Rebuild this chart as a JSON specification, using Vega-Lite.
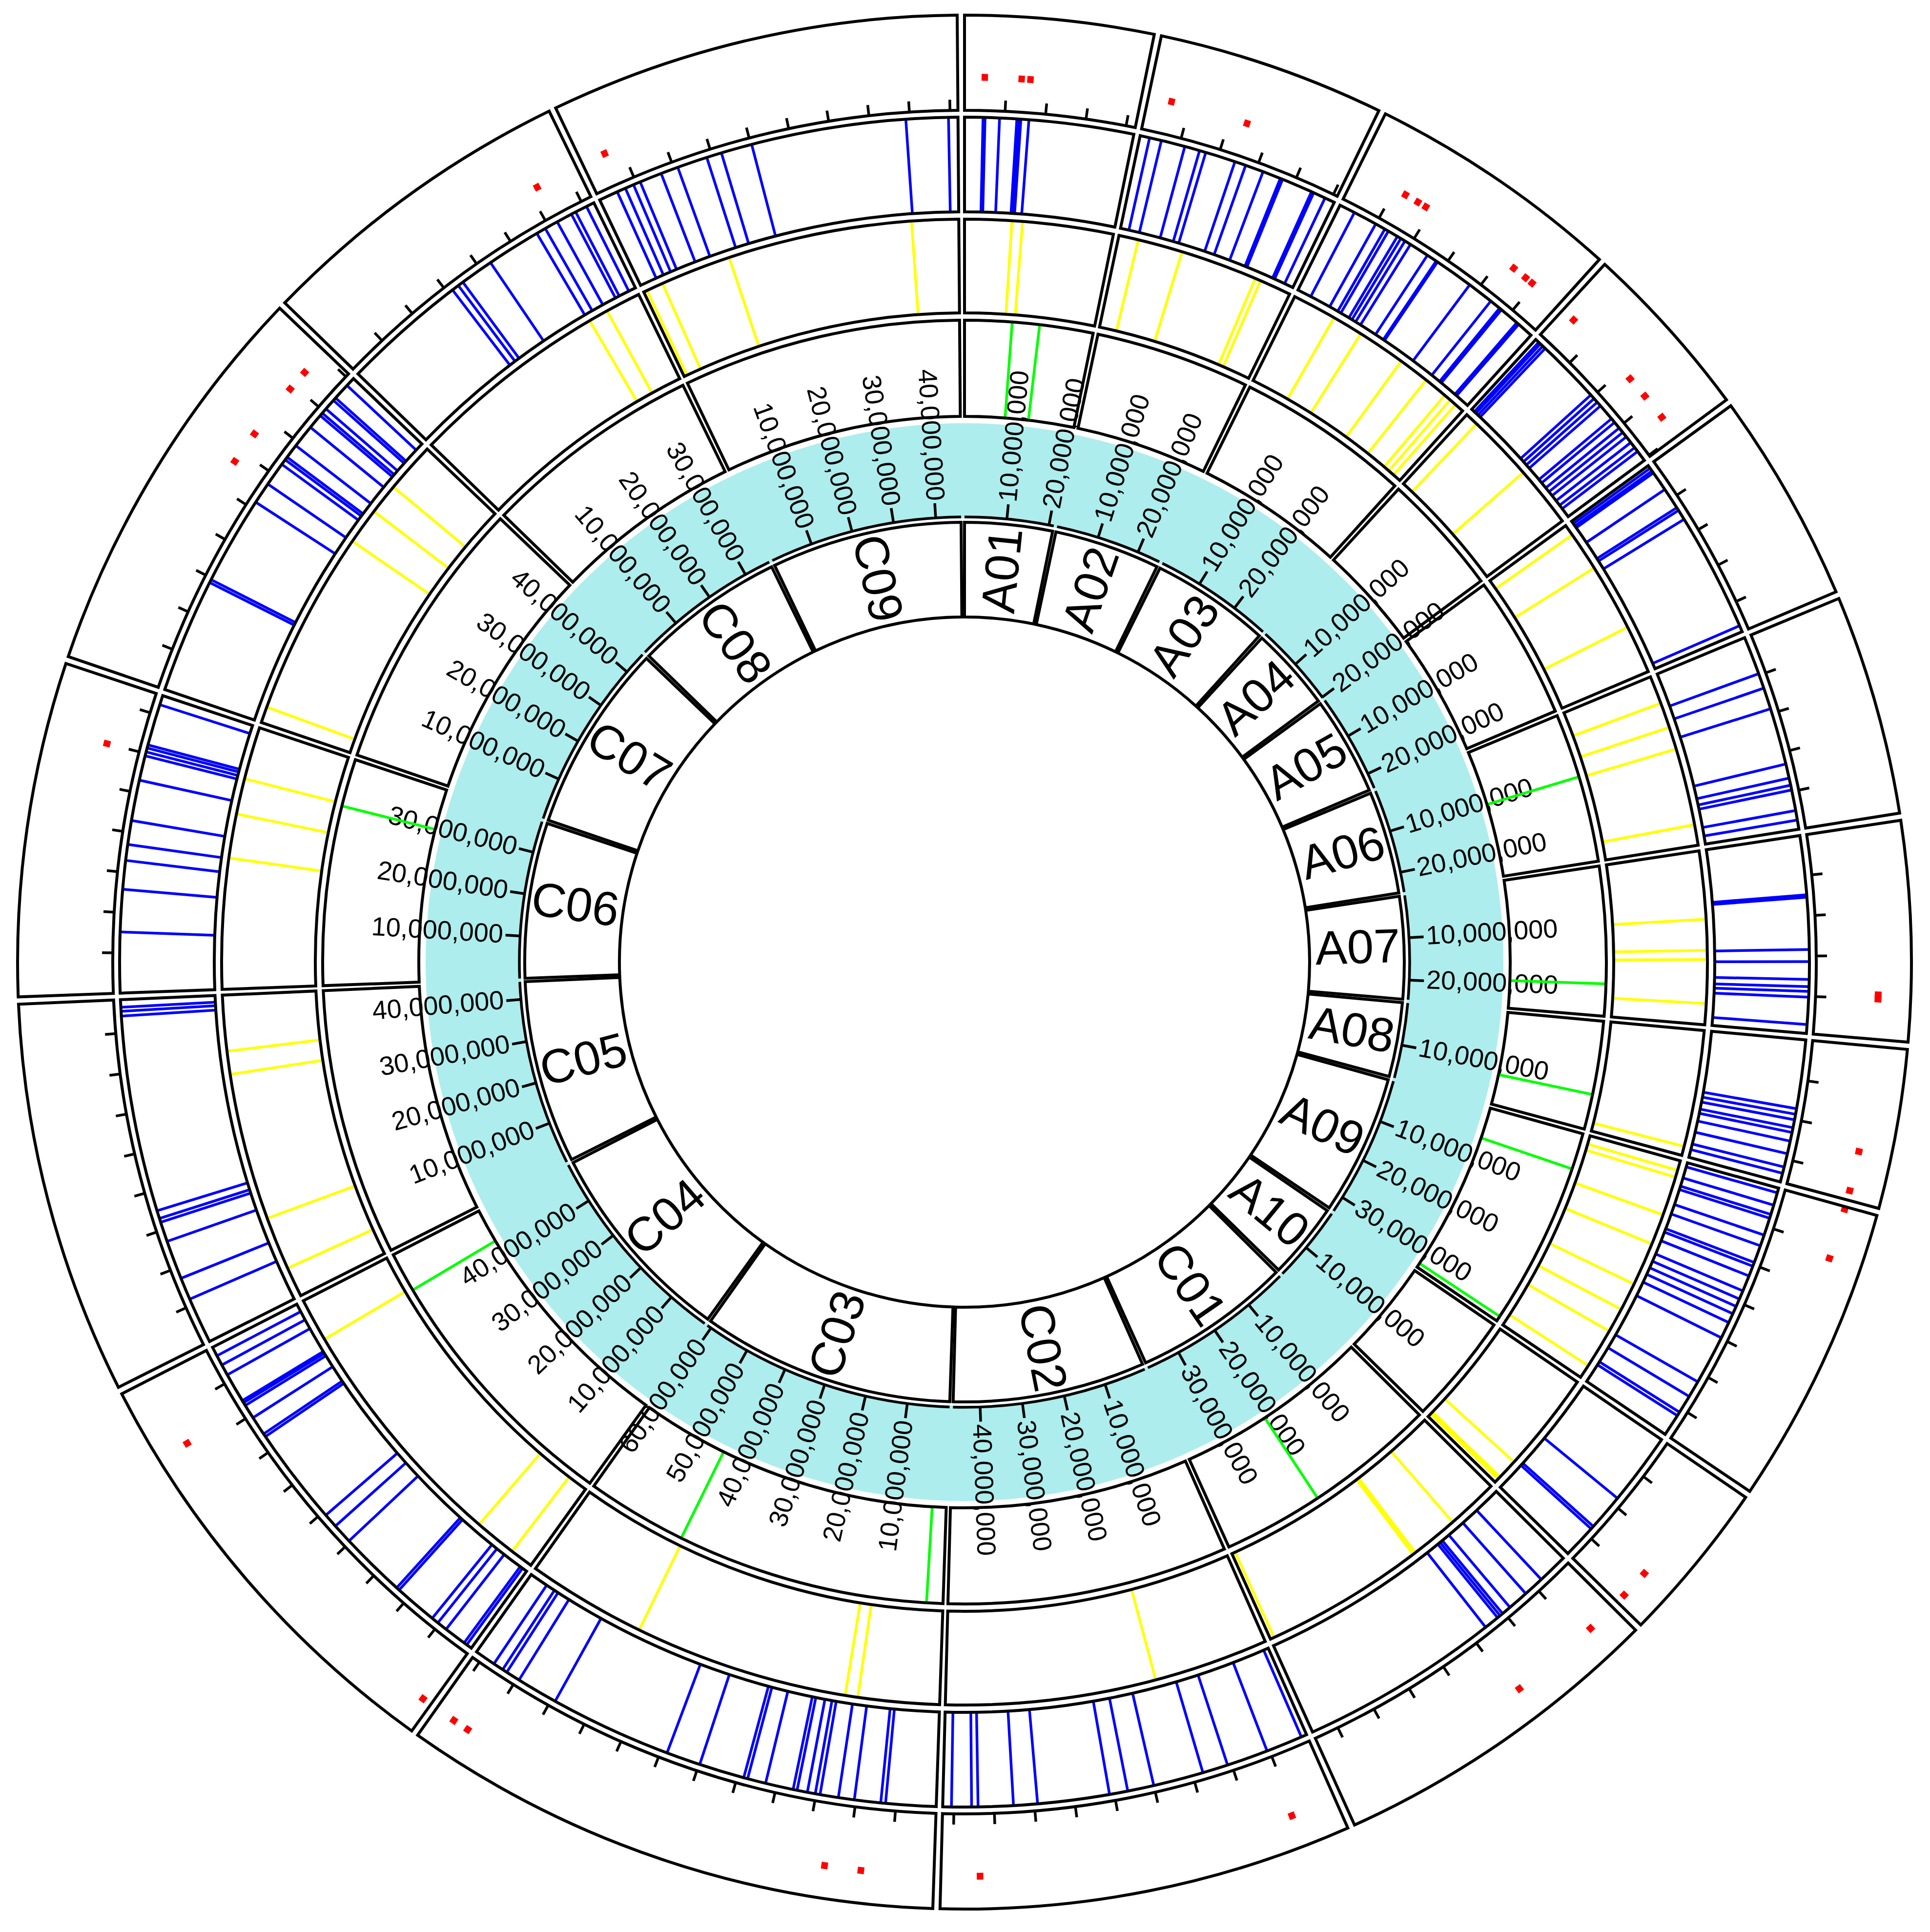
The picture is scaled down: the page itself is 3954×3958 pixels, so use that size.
{
"$schema": "https://vega.github.io/schema/vega-lite/v6.json",
"width": 3952, "height": 3942, "autosize": {"type": "none"}, "padding": 0,
"background": "white",
"config": {"view": {"stroke": null}},
"datasets": {
"chroms": [
{"chr":"A01","offset":0,"len":21.15},{"chr":"A02","offset":21.95,"len":25.52},{"chr":"A03","offset":48.27,"len":28.74},
{"chr":"A04","offset":77.81,"len":20.19},{"chr":"A05","offset":98.81,"len":23.71},{"chr":"A06","offset":123.32,"len":24.75},
{"chr":"A07","offset":148.87,"len":24.62},{"chr":"A08","offset":174.30,"len":17.91},{"chr":"A09","offset":193.01,"len":33.77},
{"chr":"A10","offset":227.58,"len":18.31},{"chr":"C01","offset":246.70,"len":38.06},{"chr":"C02","offset":285.57,"len":46.39},
{"chr":"C03","offset":332.76,"len":61.02},{"chr":"C04","offset":394.58,"len":49.68},{"chr":"C05","offset":445.07,"len":44.14},
{"chr":"C06","offset":490.02,"len":37.48},{"chr":"C07","offset":528.30,"len":45.47},{"chr":"C08","offset":574.58,"len":36.33},
{"chr":"C09","offset":611.71,"len":45.98}
],
"ticks": [
{"chr":"A01","pos":5},{"chr":"A01","pos":10},{"chr":"A01","pos":15},{"chr":"A01","pos":20},
{"chr":"A02","pos":5},{"chr":"A02","pos":10},{"chr":"A02","pos":15},{"chr":"A02","pos":20},{"chr":"A02","pos":25},
{"chr":"A03","pos":5},{"chr":"A03","pos":10},{"chr":"A03","pos":15},{"chr":"A03","pos":20},{"chr":"A03","pos":25},
{"chr":"A04","pos":5},{"chr":"A04","pos":10},{"chr":"A04","pos":15},{"chr":"A04","pos":20},
{"chr":"A05","pos":5},{"chr":"A05","pos":10},{"chr":"A05","pos":15},{"chr":"A05","pos":20},
{"chr":"A06","pos":5},{"chr":"A06","pos":10},{"chr":"A06","pos":15},{"chr":"A06","pos":20},
{"chr":"A07","pos":5},{"chr":"A07","pos":10},{"chr":"A07","pos":15},{"chr":"A07","pos":20},
{"chr":"A08","pos":5},{"chr":"A08","pos":10},{"chr":"A08","pos":15},
{"chr":"A09","pos":5},{"chr":"A09","pos":10},{"chr":"A09","pos":15},{"chr":"A09","pos":20},{"chr":"A09","pos":25},{"chr":"A09","pos":30},
{"chr":"A10","pos":5},{"chr":"A10","pos":10},{"chr":"A10","pos":15},
{"chr":"C01","pos":5},{"chr":"C01","pos":10},{"chr":"C01","pos":15},{"chr":"C01","pos":20},{"chr":"C01","pos":25},{"chr":"C01","pos":30},{"chr":"C01","pos":35},
{"chr":"C02","pos":5},{"chr":"C02","pos":10},{"chr":"C02","pos":15},{"chr":"C02","pos":20},{"chr":"C02","pos":25},{"chr":"C02","pos":30},{"chr":"C02","pos":35},{"chr":"C02","pos":40},{"chr":"C02","pos":45},
{"chr":"C03","pos":5},{"chr":"C03","pos":10},{"chr":"C03","pos":15},{"chr":"C03","pos":20},{"chr":"C03","pos":25},{"chr":"C03","pos":30},{"chr":"C03","pos":35},{"chr":"C03","pos":40},{"chr":"C03","pos":45},{"chr":"C03","pos":50},{"chr":"C03","pos":55},{"chr":"C03","pos":60},
{"chr":"C04","pos":5},{"chr":"C04","pos":10},{"chr":"C04","pos":15},{"chr":"C04","pos":20},{"chr":"C04","pos":25},{"chr":"C04","pos":30},{"chr":"C04","pos":35},{"chr":"C04","pos":40},{"chr":"C04","pos":45},
{"chr":"C05","pos":5},{"chr":"C05","pos":10},{"chr":"C05","pos":15},{"chr":"C05","pos":20},{"chr":"C05","pos":25},{"chr":"C05","pos":30},{"chr":"C05","pos":35},{"chr":"C05","pos":40},
{"chr":"C06","pos":5},{"chr":"C06","pos":10},{"chr":"C06","pos":15},{"chr":"C06","pos":20},{"chr":"C06","pos":25},{"chr":"C06","pos":30},{"chr":"C06","pos":35},
{"chr":"C07","pos":5},{"chr":"C07","pos":10},{"chr":"C07","pos":15},{"chr":"C07","pos":20},{"chr":"C07","pos":25},{"chr":"C07","pos":30},{"chr":"C07","pos":35},{"chr":"C07","pos":40},{"chr":"C07","pos":45},
{"chr":"C08","pos":5},{"chr":"C08","pos":10},{"chr":"C08","pos":15},{"chr":"C08","pos":20},{"chr":"C08","pos":25},{"chr":"C08","pos":30},{"chr":"C08","pos":35},
{"chr":"C09","pos":5},{"chr":"C09","pos":10},{"chr":"C09","pos":15},{"chr":"C09","pos":20},{"chr":"C09","pos":25},{"chr":"C09","pos":30},{"chr":"C09","pos":35},{"chr":"C09","pos":40},{"chr":"C09","pos":45}
],
"green": [
{"chr":"A01","pos":7.8},{"chr":"A01","pos":12.3},{"chr":"A06","pos":10.6},{"chr":"A07","pos":19.3},{"chr":"A08","pos":12.1},
{"chr":"A09","pos":6.0},{"chr":"A09","pos":32.9},{"chr":"C01","pos":21.5},{"chr":"C03","pos":2.7},{"chr":"C03","pos":44.4},
{"chr":"C04","pos":43.1},{"chr":"C06","pos":29.6}
],
"yellow": [
{"chr":"A01","pos":6.7},{"chr":"A01","pos":8.2},
{"chr":"A02","pos":2.8},{"chr":"A02","pos":9.2},{"chr":"A02","pos":20.2},{"chr":"A02","pos":21.0},
{"chr":"A03","pos":6.3},{"chr":"A03","pos":10.7},{"chr":"A03","pos":17.6},{"chr":"A03","pos":22.0},{"chr":"A03","pos":25.4},{"chr":"A03","pos":26.4},{"chr":"A03","pos":27.4},
{"chr":"A04","pos":1.9},{"chr":"A04","pos":11.4},
{"chr":"A05","pos":1.6},{"chr":"A05","pos":7.2},{"chr":"A05","pos":16.8},
{"chr":"A06","pos":4.0},{"chr":"A06","pos":7.6},{"chr":"A06","pos":10.8},{"chr":"A06","pos":21.8},
{"chr":"A07","pos":9.7},{"chr":"A07","pos":14.1},{"chr":"A07","pos":15.4},{"chr":"A07","pos":21.6},
{"chr":"A08","pos":16.6},
{"chr":"A09","pos":1.4},{"chr":"A09","pos":2.4},{"chr":"A09","pos":8.0},{"chr":"A09","pos":12.4},{"chr":"A09","pos":18.6},{"chr":"A09","pos":22.6},{"chr":"A09","pos":26.1},{"chr":"A09","pos":31.8},
{"chr":"A10","pos":14.4},{"chr":"A10","pos":17.3},{"chr":"A10","pos":17.7},
{"chr":"C01","pos":7.4},{"chr":"C01","pos":14.2},{"chr":"C01","pos":14.6},{"chr":"C01","pos":37.5},
{"chr":"C02","pos":16.4},
{"chr":"C03","pos":11.6},{"chr":"C03","pos":13.4},{"chr":"C03","pos":44.0},
{"chr":"C04","pos":3.3},{"chr":"C04","pos":9.3},{"chr":"C04","pos":43.5},
{"chr":"C05","pos":4.3},{"chr":"C05","pos":11.9},{"chr":"C05","pos":32.9},{"chr":"C05","pos":36.2},
{"chr":"C06","pos":18.6},{"chr":"C06","pos":24.9},{"chr":"C06","pos":30.0},
{"chr":"C07","pos":2.3},{"chr":"C07","pos":28.7},{"chr":"C07","pos":33.9},{"chr":"C07","pos":38.3},
{"chr":"C08","pos":28.5},{"chr":"C08","pos":31.3},
{"chr":"C09","pos":0.5},{"chr":"C09","pos":2.9},{"chr":"C09","pos":13.0},{"chr":"C09","pos":39.3}
],
"blue": [
{"chr":"A01","pos":2.3},{"chr":"A01","pos":2.55},{"chr":"A01","pos":4.35},{"chr":"A01","pos":6.5},{"chr":"A01","pos":6.75},{"chr":"A01","pos":7.0},{"chr":"A01","pos":8.0},
{"chr":"A02","pos":1.2},{"chr":"A02","pos":2.7},{"chr":"A02","pos":5.7},{"chr":"A02","pos":7.6},{"chr":"A02","pos":8.4},{"chr":"A02","pos":12.2},{"chr":"A02","pos":13.6},{"chr":"A02","pos":15.9},{"chr":"A02","pos":18.2},{"chr":"A02","pos":18.5},{"chr":"A02","pos":22.4},{"chr":"A02","pos":22.7},{"chr":"A02","pos":24.25},
{"chr":"A03","pos":2.0},{"chr":"A03","pos":5.0},{"chr":"A03","pos":6.3},{"chr":"A03","pos":6.8},{"chr":"A03","pos":8.1},{"chr":"A03","pos":8.6},{"chr":"A03","pos":9.2},{"chr":"A03","pos":10.0},{"chr":"A03","pos":12.5},{"chr":"A03","pos":13.8},{"chr":"A03","pos":14.0},{"chr":"A03","pos":18.9},{"chr":"A03","pos":22.2},{"chr":"A03","pos":23.6},{"chr":"A03","pos":23.9},{"chr":"A03","pos":26.4},{"chr":"A03","pos":26.7},
{"chr":"A04","pos":0.5},{"chr":"A04","pos":0.8},{"chr":"A04","pos":1.2},{"chr":"A04","pos":1.6},{"chr":"A04","pos":9.7},{"chr":"A04","pos":10.3},{"chr":"A04","pos":10.9},{"chr":"A04","pos":11.5},{"chr":"A04","pos":13.6},{"chr":"A04","pos":14.2},{"chr":"A04","pos":15.1},{"chr":"A04","pos":15.8},{"chr":"A04","pos":16.5},{"chr":"A04","pos":17.4},{"chr":"A04","pos":18.2},{"chr":"A04","pos":18.8},
{"chr":"A05","pos":0.4},{"chr":"A05","pos":0.8},{"chr":"A05","pos":1.1},{"chr":"A05","pos":3.6},{"chr":"A05","pos":6.3},{"chr":"A05","pos":6.7},{"chr":"A05","pos":8.0},{"chr":"A05","pos":22.9},
{"chr":"A06","pos":4.8},{"chr":"A06","pos":6.7},{"chr":"A06","pos":9.4},{"chr":"A06","pos":16.5},{"chr":"A06","pos":18.3},{"chr":"A06","pos":19.2},{"chr":"A06","pos":19.8},{"chr":"A06","pos":22.4},{"chr":"A06","pos":23.6},
{"chr":"A07","pos":7.4},{"chr":"A07","pos":7.7},{"chr":"A07","pos":14.2},{"chr":"A07","pos":15.7},{"chr":"A07","pos":17.9},{"chr":"A07","pos":18.8},{"chr":"A07","pos":19.4},{"chr":"A07","pos":20.1},{"chr":"A07","pos":23.5},
{"chr":"A08","pos":8.6},{"chr":"A08","pos":9.3},{"chr":"A08","pos":10.0},{"chr":"A08","pos":11.0},{"chr":"A08","pos":11.6},{"chr":"A08","pos":12.7},{"chr":"A08","pos":14.3},{"chr":"A08","pos":16.0},{"chr":"A08","pos":16.8},
{"chr":"A09","pos":0.6},{"chr":"A09","pos":2.2},{"chr":"A09","pos":3.4},{"chr":"A09","pos":3.9},{"chr":"A09","pos":6.1},{"chr":"A09","pos":7.5},{"chr":"A09","pos":9.7},{"chr":"A09","pos":10.2},{"chr":"A09","pos":11.5},{"chr":"A09","pos":13.5},{"chr":"A09","pos":14.6},{"chr":"A09","pos":15.6},{"chr":"A09","pos":16.6},{"chr":"A09","pos":17.8},{"chr":"A09","pos":19.9},{"chr":"A09","pos":26.1},{"chr":"A09","pos":28.2},{"chr":"A09","pos":30.5},{"chr":"A09","pos":31.0},
{"chr":"A10","pos":9.1},{"chr":"A10","pos":13.7},{"chr":"A10","pos":14.1},
{"chr":"C01","pos":3.8},{"chr":"C01","pos":6.4},{"chr":"C01","pos":9.0},{"chr":"C01","pos":10.2},{"chr":"C01","pos":10.6},{"chr":"C01","pos":11.0},{"chr":"C01","pos":12.9},
{"chr":"C02","pos":0.7},{"chr":"C02","pos":5.3},{"chr":"C02","pos":10.5},{"chr":"C02","pos":13.7},{"chr":"C02","pos":20.0},{"chr":"C02","pos":23.3},{"chr":"C02","pos":25.6},{"chr":"C02","pos":34.6},{"chr":"C02","pos":37.6},{"chr":"C02","pos":42.0},{"chr":"C02","pos":42.8},{"chr":"C02","pos":45.3},
{"chr":"C03","pos":6.3},{"chr":"C03","pos":6.9},{"chr":"C03","pos":10.2},{"chr":"C03","pos":12.2},{"chr":"C03","pos":14.5},{"chr":"C03","pos":15.1},{"chr":"C03","pos":16.1},{"chr":"C03","pos":17.4},{"chr":"C03","pos":17.9},{"chr":"C03","pos":21.4},{"chr":"C03","pos":23.7},{"chr":"C03","pos":24.2},{"chr":"C03","pos":29.9},{"chr":"C03","pos":34.2},{"chr":"C03","pos":49.5},{"chr":"C03","pos":54.7},{"chr":"C03","pos":56.5},{"chr":"C03","pos":57.1},{"chr":"C03","pos":58.4},
{"chr":"C04","pos":0.7},{"chr":"C04","pos":1.1},{"chr":"C04","pos":3.9},{"chr":"C04","pos":5.2},{"chr":"C04","pos":6.1},{"chr":"C04","pos":11.5},{"chr":"C04","pos":11.9},{"chr":"C04","pos":20.2},{"chr":"C04","pos":22.7},{"chr":"C04","pos":24.5},{"chr":"C04","pos":36.8},{"chr":"C04","pos":37.2},{"chr":"C04","pos":39.6},{"chr":"C04","pos":41.4},{"chr":"C04","pos":41.8},{"chr":"C04","pos":42.1},{"chr":"C04","pos":45.8},{"chr":"C04","pos":47.2},{"chr":"C04","pos":48.5},
{"chr":"C05","pos":5.8},{"chr":"C05","pos":8.6},{"chr":"C05","pos":13.5},{"chr":"C05","pos":16.0},{"chr":"C05","pos":16.5},{"chr":"C05","pos":17.5},{"chr":"C05","pos":42.1},{"chr":"C05","pos":42.7},{"chr":"C05","pos":43.2},
{"chr":"C06","pos":7.6},{"chr":"C06","pos":12.9},{"chr":"C06","pos":16.5},{"chr":"C06","pos":18.5},{"chr":"C06","pos":21.5},{"chr":"C06","pos":26.6},{"chr":"C06","pos":29.7},{"chr":"C06","pos":30.2},{"chr":"C06","pos":30.7},{"chr":"C06","pos":31.1},{"chr":"C06","pos":36.3},
{"chr":"C07","pos":14.4},{"chr":"C07","pos":14.8},{"chr":"C07","pos":25.9},{"chr":"C07","pos":28.6},{"chr":"C07","pos":31.6},{"chr":"C07","pos":32.3},{"chr":"C07","pos":32.7},{"chr":"C07","pos":34.5},{"chr":"C07","pos":37.4},{"chr":"C07","pos":39.3},{"chr":"C07","pos":39.7},{"chr":"C07","pos":40.4},{"chr":"C07","pos":41.8},{"chr":"C07","pos":42.2},{"chr":"C07","pos":44.3},
{"chr":"C08","pos":15.7},{"chr":"C08","pos":16.6},{"chr":"C08","pos":17.3},{"chr":"C08","pos":21.5},{"chr":"C08","pos":28.3},{"chr":"C08","pos":29.5},{"chr":"C08","pos":31.2},{"chr":"C08","pos":33.2},{"chr":"C08","pos":33.8},{"chr":"C08","pos":35.3},
{"chr":"C09","pos":2.4},{"chr":"C09","pos":3.5},{"chr":"C09","pos":4.6},{"chr":"C09","pos":5.5},{"chr":"C09","pos":8.3},{"chr":"C09","pos":10.5},{"chr":"C09","pos":14.3},{"chr":"C09","pos":16.2},{"chr":"C09","pos":20.1},{"chr":"C09","pos":39.5},{"chr":"C09","pos":44.8}
],
"red": [
{"chr":"A01","pos":2.4,"v":1},{"chr":"A01","pos":6.77,"v":1},{"chr":"A01","pos":7.82,"v":1},
{"chr":"A02","pos":2.8,"v":1},{"chr":"A02","pos":12.1,"v":1},
{"chr":"A03","pos":6.4,"v":1},{"chr":"A03","pos":8.1,"v":1},{"chr":"A03","pos":9.2,"v":1},{"chr":"A03","pos":21.9,"v":1},{"chr":"A03","pos":23.7,"v":1},{"chr":"A03","pos":24.7,"v":1},
{"chr":"A04","pos":1.74,"v":1},{"chr":"A04","pos":11.4,"v":1},{"chr":"A04","pos":14.1,"v":1},{"chr":"A04","pos":17.3,"v":1},
{"chr":"A07","pos":19.5,"v":2},{"chr":"A07","pos":20.0,"v":2},
{"chr":"A08","pos":12.2,"v":2},{"chr":"A08","pos":16.8,"v":2},
{"chr":"A09","pos":0.3,"v":2},{"chr":"A09","pos":6.2,"v":2},
{"chr":"A10","pos":13.8,"v":2},{"chr":"A10","pos":17.2,"v":2},
{"chr":"C01","pos":3.5,"v":2},{"chr":"C01","pos":14.2,"v":2},
{"chr":"C02","pos":5.3,"v":2},{"chr":"C02","pos":41.9,"v":2},
{"chr":"C03","pos":8.4,"v":2},{"chr":"C03","pos":12.6,"v":2},{"chr":"C03","pos":56.7,"v":2},{"chr":"C03","pos":58.6,"v":2},
{"chr":"C04","pos":1.1,"v":2},{"chr":"C04","pos":41.2,"v":2},
{"chr":"C06","pos":30.0,"v":1},
{"chr":"C07","pos":28.6,"v":1},{"chr":"C07","pos":32.6,"v":1},{"chr":"C07","pos":39.4,"v":1},{"chr":"C07","pos":42.0,"v":1},
{"chr":"C08","pos":31.1,"v":1},
{"chr":"C09","pos":2.9,"v":1}
]
},
"layer": [
{"data":{"values":[{"band":1}]},
 "mark":{"type":"arc","theta":0,"theta2":6.2832,"radius":1104,"radius2":909,"fill":"#ADEDED","strokeWidth":0},
 "encoding":{}},
{"data":{"name":"chroms"},
 "transform":[{"calculate":"datum.offset+datum.len","as":"end"}],
 "mark":{"type":"arc","radius":901,"radius2":707,"fill":"white","stroke":"black","strokeWidth":6},
 "encoding":{"theta":{"field":"offset","type":"quantitative","scale":{"domain":[0,658.5],"range":[0,6.283185307179586],"zero":false,"nice":false},"stack":null},"theta2":{"field":"end"}}},
{"data":{"name":"chroms"},
 "transform":[{"calculate":"datum.offset+datum.len","as":"end"}],
 "mark":{"type":"arc","radius":912,"radius2":912,"filled":false,"stroke":"black","strokeWidth":5.5},
 "encoding":{"theta":{"field":"offset","type":"quantitative","scale":{"domain":[0,658.5],"range":[0,6.283185307179586],"zero":false,"nice":false},"stack":null},"theta2":{"field":"end"}}},
{"data":{"name":"ticks"},
 "transform":[{"filter":"datum.pos % 10 == 0"},{"lookup":"chr","from":{"data":{"name":"chroms"},"key":"chr","fields":["offset"]}},{"calculate":"datum.offset+datum.pos","as":"G"}],
 "mark":{"type":"arc","radius":942,"radius2":912,"filled":false,"stroke":"black","strokeWidth":5.5},
 "encoding":{"theta":{"field":"G","type":"quantitative","scale":{"domain":[0,658.5],"range":[0,6.283185307179586],"zero":false,"nice":false},"stack":null},"theta2":{"field":"G"}}},
{"data":{"name":"ticks"},
 "transform":[{"filter":"datum.pos % 10 == 0"},{"lookup":"chr","from":{"data":{"name":"chroms"},"key":"chr","fields":["offset"]}},{"calculate":"datum.offset+datum.pos","as":"G"},{"calculate":"datum.G*360/658.5","as":"deg"},{"filter":"datum.deg < 180"},{"calculate":"datum.deg-90","as":"ang"},{"calculate":"format(datum.pos*1000000, ',')","as":"lab"}],
 "mark":{"type":"text","radius":947,"align":"left","baseline":"middle","fontSize":54,"font":"Liberation Sans","color":"black"},
 "encoding":{"theta":{"field":"G","type":"quantitative","scale":{"domain":[0,658.5],"range":[0,6.283185307179586],"zero":false,"nice":false}},"angle":{"field":"ang","type":"quantitative","scale":null},"text":{"field":"lab"}}},
{"data":{"name":"ticks"},
 "transform":[{"filter":"datum.pos % 10 == 0"},{"lookup":"chr","from":{"data":{"name":"chroms"},"key":"chr","fields":["offset"]}},{"calculate":"datum.offset+datum.pos","as":"G"},{"calculate":"datum.G*360/658.5","as":"deg"},{"filter":"datum.deg >= 180"},{"calculate":"datum.deg-270","as":"ang"},{"calculate":"format(datum.pos*1000000, ',')","as":"lab"}],
 "mark":{"type":"text","radius":947,"align":"right","baseline":"middle","fontSize":54,"font":"Liberation Sans","color":"black"},
 "encoding":{"theta":{"field":"G","type":"quantitative","scale":{"domain":[0,658.5],"range":[0,6.283185307179586],"zero":false,"nice":false}},"angle":{"field":"ang","type":"quantitative","scale":null},"text":{"field":"lab"}}},
{"data":{"name":"chroms"},
 "transform":[{"calculate":"datum.offset+datum.len/2","as":"mid"},{"calculate":"datum.mid*360/658.5","as":"deg"},{"calculate":"datum.deg < 180 ? datum.deg-90 : datum.deg-270","as":"ang"}],
 "mark":{"type":"text","radius":806,"align":"center","baseline":"middle","fontSize":98,"font":"Liberation Sans","color":"black"},
 "encoding":{"theta":{"field":"mid","type":"quantitative","scale":{"domain":[0,658.5],"range":[0,6.283185307179586],"zero":false,"nice":false}},"angle":{"field":"ang","type":"quantitative","scale":null},"text":{"field":"chr"}}},
{"data":{"name":"green"},
 "transform":[{"lookup":"chr","from":{"data":{"name":"chroms"},"key":"chr","fields":["offset"]}},{"calculate":"datum.offset+datum.pos","as":"G"}],
 "mark":{"type":"arc","radius":1313,"radius2":1120,"filled":false,"stroke":"#00FF00","strokeWidth":5.5},
 "encoding":{"theta":{"field":"G","type":"quantitative","scale":{"domain":[0,658.5],"range":[0,6.283185307179586],"zero":false,"nice":false},"stack":null},"theta2":{"field":"G"}}},
{"data":{"name":"yellow"},
 "transform":[{"lookup":"chr","from":{"data":{"name":"chroms"},"key":"chr","fields":["offset"]}},{"calculate":"datum.offset+datum.pos","as":"G"}],
 "mark":{"type":"arc","radius":1520,"radius2":1332,"filled":false,"stroke":"#FFFF00","strokeWidth":5.5},
 "encoding":{"theta":{"field":"G","type":"quantitative","scale":{"domain":[0,658.5],"range":[0,6.283185307179586],"zero":false,"nice":false},"stack":null},"theta2":{"field":"G"}}},
{"data":{"name":"blue"},
 "transform":[{"lookup":"chr","from":{"data":{"name":"chroms"},"key":"chr","fields":["offset"]}},{"calculate":"datum.offset+datum.pos","as":"G"}],
 "mark":{"type":"arc","radius":1729,"radius2":1539,"filled":false,"stroke":"#0000FF","strokeWidth":5.5},
 "encoding":{"theta":{"field":"G","type":"quantitative","scale":{"domain":[0,658.5],"range":[0,6.283185307179586],"zero":false,"nice":false},"stack":null},"theta2":{"field":"G"}}},
{"data":{"name":"red"},
 "transform":[{"lookup":"chr","from":{"data":{"name":"chroms"},"key":"chr","fields":["offset"]}},{"calculate":"datum.offset+datum.pos","as":"G"}],
 "mark":{"type":"arc","fill":"#FF0000","strokeWidth":0,"thetaOffset":-0.0036,"theta2Offset":0.0036,"radiusOffset":7,"radius2Offset":-7},
 "encoding":{"theta":{"field":"G","type":"quantitative","scale":{"domain":[0,658.5],"range":[0,6.283185307179586],"zero":false,"nice":false},"stack":null},"theta2":{"field":"G"},
  "radius":{"field":"v","type":"quantitative","scale":{"type":"linear","domain":[0,3],"range":[1753,1933],"zero":false,"nice":false}},"radius2":{"field":"v"}}},
{"data":{"name":"chroms"},
 "transform":[{"calculate":"datum.offset+datum.len","as":"end"}],
 "mark":{"type":"arc","radius":1315,"radius2":1118,"filled":false,"stroke":"black","strokeWidth":6},
 "encoding":{"theta":{"field":"offset","type":"quantitative","scale":{"domain":[0,658.5],"range":[0,6.283185307179586],"zero":false,"nice":false},"stack":null},"theta2":{"field":"end"}}},
{"data":{"name":"chroms"},
 "transform":[{"calculate":"datum.offset+datum.len","as":"end"}],
 "mark":{"type":"arc","radius":1522,"radius2":1330,"filled":false,"stroke":"black","strokeWidth":6},
 "encoding":{"theta":{"field":"offset","type":"quantitative","scale":{"domain":[0,658.5],"range":[0,6.283185307179586],"zero":false,"nice":false},"stack":null},"theta2":{"field":"end"}}},
{"data":{"name":"chroms"},
 "transform":[{"calculate":"datum.offset+datum.len","as":"end"}],
 "mark":{"type":"arc","radius":1731,"radius2":1537,"filled":false,"stroke":"black","strokeWidth":6},
 "encoding":{"theta":{"field":"offset","type":"quantitative","scale":{"domain":[0,658.5],"range":[0,6.283185307179586],"zero":false,"nice":false},"stack":null},"theta2":{"field":"end"}}},
{"data":{"name":"chroms"},
 "transform":[{"calculate":"datum.offset+datum.len","as":"end"}],
 "mark":{"type":"arc","radius":1940,"radius2":1745,"filled":false,"stroke":"black","strokeWidth":6},
 "encoding":{"theta":{"field":"offset","type":"quantitative","scale":{"domain":[0,658.5],"range":[0,6.283185307179586],"zero":false,"nice":false},"stack":null},"theta2":{"field":"end"}}},
{"data":{"name":"ticks"},
 "transform":[{"lookup":"chr","from":{"data":{"name":"chroms"},"key":"chr","fields":["offset"]}},{"calculate":"datum.offset+datum.pos","as":"G"}],
 "mark":{"type":"arc","radius":1767,"radius2":1745,"filled":false,"stroke":"black","strokeWidth":5.5},
 "encoding":{"theta":{"field":"G","type":"quantitative","scale":{"domain":[0,658.5],"range":[0,6.283185307179586],"zero":false,"nice":false},"stack":null},"theta2":{"field":"G"}}}
]
}
